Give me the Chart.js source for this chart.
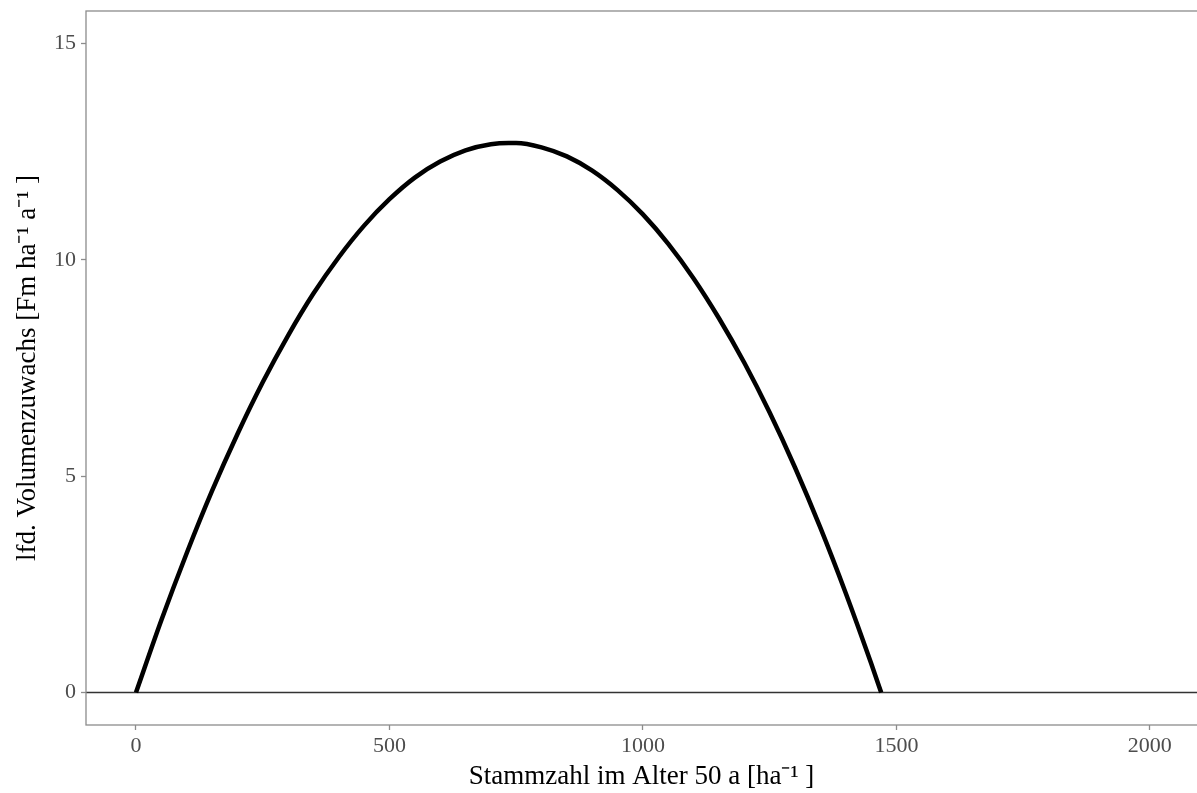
<!DOCTYPE html>
<html>
<head>
<meta charset="utf-8">
<script src="https://cdn.jsdelivr.net/npm/chart.js@4/dist/chart.umd.min.js"></script>
<style>
  html, body { margin: 0; padding: 0; background: #fff; overflow: hidden; }
  #wrap { width: 1197px; height: 793px; }
</style>
</head>
<body>
<div id="wrap"><canvas id="chart" width="1197" height="793"></canvas></div>
<script>
// Stammzahl (x) und lfd. Volumenzuwachs (y)
const stammzahl = [0, 50, 100, 150, 200, 250, 300, 350, 400, 450, 500, 550, 600, 650, 700, 735,
    750, 800, 850, 900, 950, 1000, 1050, 1100, 1150, 1200, 1250, 1300, 1350, 1400, 1450, 1470];
const zuwachs = [0, 1.67, 3.22, 4.66, 5.97, 7.17, 8.25, 9.22, 10.06, 10.79, 11.40, 11.90, 12.27, 12.53, 12.67, 12.70,
    12.70, 12.60, 12.39, 12.06, 11.61, 11.05, 10.37, 9.57, 8.65, 7.62, 6.47, 5.20, 3.81, 2.30, 0.68, 0];

// Nulllinie
const nullX = [-100, 2100];
const nullY = [0, 0];

const xTicks = [0, 500, 1000, 1500, 2000];
const yTicks = [0, 5, 10, 15];

const xTitle = "Stammzahl im Alter 50 a [ha\u207B\u00B9 ]";
const yTitle = "lfd. Volumenzuwachs [Fm ha\u207B\u00B9 a\u207B\u00B9 ]";

const curveData = stammzahl.map((x, i) => ({ x: x, y: zuwachs[i] }));
const nullData = nullX.map((x, i) => ({ x: x, y: nullY[i] }));

// Rahmen um das Panel (oben, links, unten)
const panelBorder = {
    id: "panelBorder",
    afterDraw(chart) {
        const { ctx, chartArea } = chart;
        ctx.save();
        ctx.strokeStyle = "#8c8c8c";
        ctx.lineWidth = 1.3;
        ctx.strokeRect(chartArea.left, chartArea.top, chartArea.right - chartArea.left + 20, chartArea.bottom - chartArea.top);
        ctx.restore();
    }
};

const tickFont = { family: "'Liberation Serif', 'Times New Roman', serif", size: 22 };
const titleFont = { family: "'Liberation Serif', 'Times New Roman', serif", size: 27 };

new Chart(document.getElementById("chart"), {
    type: "scatter",
    data: {
        datasets: [
            {
                label: "Null",
                data: nullData,
                showLine: true,
                borderColor: "#333333",
                borderWidth: 1.6,
                pointRadius: 0,
                order: 2
            },
            {
                label: "Zuwachs",
                data: curveData,
                showLine: true,
                cubicInterpolationMode: "monotone",
                borderColor: "#000000",
                borderWidth: 4.5,
                pointRadius: 0,
                order: 1
            }
        ]
    },
    options: {
        responsive: false,
        animation: false,
        layout: { padding: { top: 11, right: 0, left: 0, bottom: 0 } },
        plugins: {
            legend: { display: false },
            tooltip: { enabled: false }
        },
        scales: {
            x: {
                type: "linear",
                min: -98.6,
                max: 2093,
                afterFit: s => { s.height = 68; s.paddingLeft = 0; s.paddingRight = 0; },
                afterBuildTicks: s => { s.ticks = xTicks.map(v => ({ value: v })); },
                border: { display: false },
                grid: { drawOnChartArea: false, tickLength: 5, tickColor: "#8c8c8c", tickWidth: 1.3 },
                ticks: { font: tickFont, color: "#4d4d4d", padding: 3, maxRotation: 0, callback: v => String(v) },
                title: {
                    display: true,
                    text: xTitle,
                    font: titleFont,
                    color: "#000",
                    padding: { top: 0, bottom: 0 }
                }
            },
            y: {
                type: "linear",
                min: -0.75,
                max: 15.75,
                afterFit: s => { s.width = 86; s.paddingTop = 0; s.paddingBottom = 0; },
                afterBuildTicks: s => { s.ticks = yTicks.map(v => ({ value: v })); },
                border: { display: false },
                grid: { drawOnChartArea: false, tickLength: 5, tickColor: "#8c8c8c", tickWidth: 1.3 },
                ticks: { font: tickFont, color: "#4d4d4d", padding: 5, callback: v => String(v) },
                title: {
                    display: true,
                    text: yTitle,
                    font: titleFont,
                    color: "#000",
                    padding: { top: 12, bottom: 0 }
                }
            }
        }
    },
    plugins: [panelBorder]
});
</script>
</body>
</html>
